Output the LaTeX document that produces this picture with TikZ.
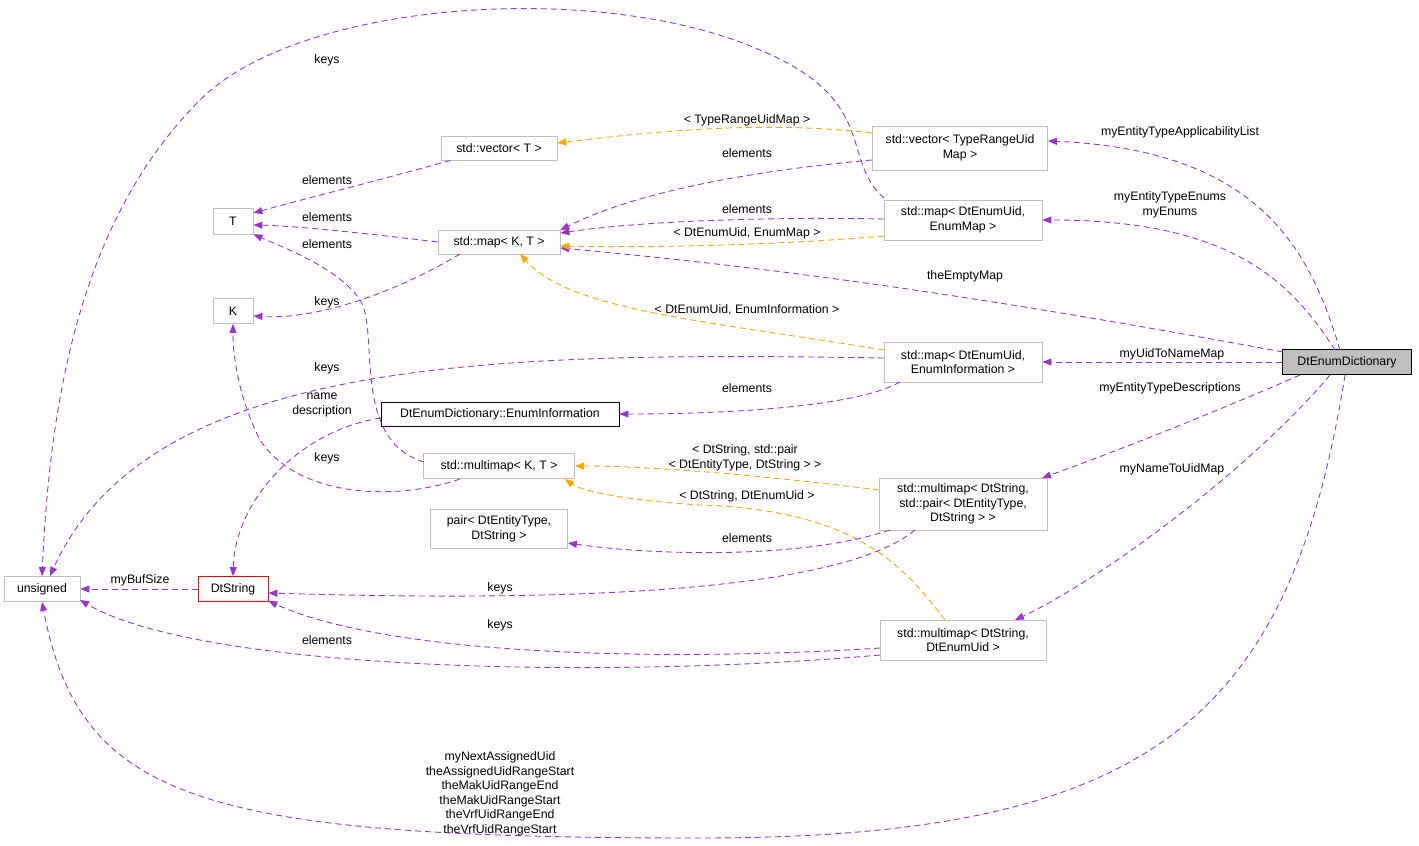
\documentclass[tikz,border=0pt]{standalone}
\usepackage{fontspec}
\setmainfont{Liberation Sans}
\usetikzlibrary{arrows.meta}
\definecolor{pur}{HTML}{9A32CD}
\definecolor{org}{HTML}{FFA500}
\definecolor{gbord}{HTML}{BFBFBF}
\begin{document}
\begin{tikzpicture}[x=1bp,y=-1bp,
  every node/.style={font=\fontsize{12.3bp}{14.5bp}\selectfont, align=center, inner sep=0pt},
  box/.style={draw=gbord, fill=white, line width=0.8bp},
  lbl/.style={fill=none},
  pe/.style={draw=pur, dashed, dash pattern=on 6bp off 4bp, line width=0.9bp, -{Triangle[length=9bp,width=7bp,fill=pur]}},
  oe/.style={draw=org, dashed, dash pattern=on 6bp off 4bp, line width=0.9bp, -{Triangle[length=9bp,width=7bp,fill=org]}}]
\useasboundingbox (0,0) rectangle (1419,845);
% nodes
\node[box, fill=gbord, draw=black, minimum width=129bp, minimum height=25bp] (dict) at (1347,362) {DtEnumDictionary};
\node[box, minimum width=175bp, minimum height=44bp] (vtru) at (960,148) {std::vector< TypeRangeUid\\Map >};
\node[box, minimum width=158bp, minimum height=40bp] (memap) at (963,220) {std::map< DtEnumUid,\\EnumMap >};
\node[box, minimum width=158bp, minimum height=40bp] (meinfo) at (963,362) {std::map< DtEnumUid,\\EnumInformation >};
\node[box, minimum width=168bp, minimum height=52bp] (mmpair) at (963,504) {std::multimap< DtString,\\std::pair< DtEntityType,\\DtString > >};
\node[box, minimum width=166bp, minimum height=40bp] (mmuid) at (963,640) {std::multimap< DtString,\\DtEnumUid >};
\node[box, minimum width=116bp, minimum height=24bp] (vt) at (499,148) {std::vector< T >};
\node[box, minimum width=122bp, minimum height=24bp] (mkt) at (499,242) {std::map< K, T >};
\node[box, minimum width=40bp, minimum height=26bp] (T) at (233,221) {T};
\node[box, minimum width=40bp, minimum height=25bp] (K) at (233,311) {K};
\node[box, draw=black, minimum width=238bp, minimum height=24bp] (einfo) at (500,414) {DtEnumDictionary::EnumInformation};
\node[box, minimum width=151bp, minimum height=25bp] (mmkt) at (499,466) {std::multimap< K, T >};
\node[box, minimum width=137bp, minimum height=39bp] (pair) at (499,529) {pair< DtEntityType,\\DtString >};
\node[box, draw=red, minimum width=70bp, minimum height=25bp] (dts) at (233,589) {DtString};
\node[box, minimum width=76bp, minimum height=25bp] (uns) at (42,589) {unsigned};
% edges from DtEnumDictionary
\draw[pe] (1340,350) .. controls (1310,250) and (1260,150) .. (vtru.east |- 0,141);
\node at (1180,132) {myEntityTypeApplicabilityList};
\draw[pe] (1335,350) .. controls (1290,280) and (1230,220) .. (memap.east |- 0,220);
\node at (1170,205) {myEntityTypeEnums\\myEnums};
\draw[pe] (1283,352) .. controls (1000,300) and (800,270) .. (mkt.east |- 0,248);
\node at (965,276) {theEmptyMap};
\draw[pe] (dict.west) -- (meinfo.east);
\node at (1172,354) {myUidToNameMap};
\draw[pe] (1300,375) .. controls (1220,410) and (1120,450) .. (1042,478);
\node at (1170,388) {myEntityTypeDescriptions};
\draw[pe] (1330,375) .. controls (1250,470) and (1100,580) .. (1015,620);
\node at (1172,469) {myNameToUidMap};
\draw[pe] (1345,375) .. controls (1290,720) and (1150,838) .. (700,838) .. controls (200,838) and (80,800) .. (uns.south);
\node at (500,794) {myNextAssignedUid\\theAssignedUidRangeStart\\theMakUidRangeEnd\\theMakUidRangeStart\\theVrfUidRangeEnd\\theVrfUidRangeStart};
% from vector<TypeRangeUidMap>
\draw[oe] (872,133) .. controls (760,120) and (650,132) .. (vt.east |- 0,143);
\node at (747,120) {< TypeRangeUidMap >};
\draw[pe] (872,160) .. controls (760,170) and (640,190) .. (mkt.east |- 0,230);
\node at (747,153) {elements};
% from map EnumMap
\draw[pe] (884,219) .. controls (780,217) and (650,220) .. (mkt.east |- 0,233);
\node at (747,209) {elements};
\draw[oe] (884,236) .. controls (780,245) and (650,248) .. (mkt.east |- 0,246);
\node at (747,233) {< DtEnumUid, EnumMap >};
\draw[pe] (884,198) .. controls (840,160) and (880,100) .. (760,50) .. controls (600,-20) and (300,0) .. (200,100) .. controls (80,220) and (50,400) .. (uns.north);
\node at (327,60) {keys};
% from map EnumInformation
\draw[oe] (884,350) .. controls (700,320) and (570,310) .. (520,254);
\node at (747,310) {< DtEnumUid, EnumInformation >};
\draw[pe] (900,382) .. controls (850,410) and (700,414) .. (einfo.east);
\node at (747,388) {elements};
\draw[pe] (884,358) .. controls (500,352) and (150,355) .. (50,576);
\node at (327,368) {keys};
% to T and K
\draw[pe] (vt.south west) ++(10,0) .. controls (380,180) and (300,200) .. (T.east |- 0,213);
\node at (327,180) {elements};
\draw[pe] (mkt.west) .. controls (380,235) and (300,226) .. (T.east |- 0,225);
\node at (327,217) {elements};
\draw[pe] (460,254) .. controls (400,290) and (320,320) .. (K.east |- 0,316);
\node at (327,302) {keys};
\draw[pe] (424,462) .. controls (350,440) and (380,330) .. (360,300) .. controls (340,270) and (290,250) .. (T.south east);
\node at (327,244) {elements};
\draw[pe] (460,479) .. controls (400,500) and (300,500) .. (260,440) .. controls (240,400) and (233,360) .. (K.south);
\node at (327,458) {keys};
\draw[pe] (381,418) .. controls (300,430) and (235,500) .. (dts.north);
\node at (322,405) {name\\description};
% to multimap<K,T>
\draw[oe] (879,490) .. controls (760,475) and (650,466) .. (mmkt.east);
\node at (745,458) {< DtString, std::pair\\< DtEntityType, DtString > >};
\draw[oe] (945,620) .. controls (900,560) and (850,510) .. (700,505) .. controls (620,500) and (580,490) .. (565,479);
\node at (747,496) {< DtString, DtEnumUid >};
\draw[pe] (890,530) .. controls (800,560) and (650,555) .. (pair.east |- 0,543);
\node at (747,538) {elements};
\draw[pe] (915,530) .. controls (830,600) and (500,600) .. (dts.east |- 0,593);
\node at (500,588) {keys};
\draw[pe] (880,648) .. controls (700,660) and (400,660) .. (dts.east |- 0,601);
\node at (500,625) {keys};
\draw[pe] (880,655) .. controls (600,680) and (200,670) .. (80,600);
\node at (327,640) {elements};
\draw[pe] (dts.west) -- (uns.east);
\node at (140,580) {myBufSize};
\end{tikzpicture}
\end{document}
